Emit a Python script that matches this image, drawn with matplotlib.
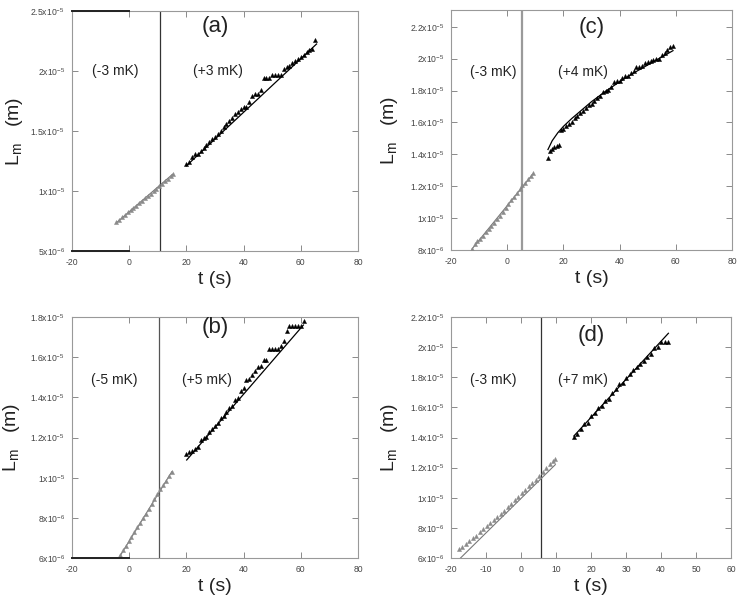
import matplotlib
matplotlib.use("Agg")
import matplotlib.pyplot as plt

plt.rcParams['font.family'] = ['Liberation Sans', 'DejaVu Sans']
plt.rcParams['mathtext.fontset'] = 'custom'
plt.rcParams['mathtext.rm'] = 'Liberation Sans'
plt.rcParams['mathtext.it'] = 'Liberation Sans:italic'

# ---------------- data (lengths in units of 1e-6 m) ----------------
# panel (a)
a_t_left = [-4.5, -3.5, -2.5, -1.5, -0.5, 0.5, 1.5, 2.5, 3.5, 4.5, 5.5, 6.5, 7.5, 8.5,
            9.5, 10.5, 11.5, 12.5, 13.5, 14.5, 15.2]
a_y_left = [7.40, 7.62, 7.80, 8.02, 8.22, 8.42, 8.60, 8.78, 8.98, 9.20, 9.40, 9.58, 9.78,
            9.98, 10.20, 10.40, 10.62, 10.82, 11.02, 11.25, 11.45]
a_t_right = [20, 21, 22, 23, 24, 25, 26, 27, 28, 29, 30, 31, 32, 33, 34, 35, 36, 37, 38,
             39, 40, 41, 42, 43, 44, 45, 46, 47, 48, 49, 50, 51, 52, 53, 54, 55, 56, 57,
             58, 59, 60, 61, 62, 63, 64, 65]
a_y_right = [12.25, 12.40, 12.85, 13.05, 13.05, 13.30, 13.60, 13.80, 14.05, 14.35, 14.50,
             14.75, 15.00, 15.30, 15.55, 15.80, 16.10, 16.40, 16.55, 16.80, 17.00, 17.00,
             17.45, 17.90, 18.05, 18.10, 18.40, 19.40, 19.40, 19.40, 19.70, 19.70, 19.70,
             19.70, 20.20, 20.35, 20.40, 20.70, 20.80, 21.00, 21.20, 21.35, 21.55, 21.75,
             21.85, 22.55]
a_fit_left_t = [-4.5, 15.2]
a_fit_left_y = [7.35, 11.40]
a_fit_right_t = [20, 65.5]
a_fit_right_y = [12.10, 22.25]
a_vline = 10.6

# panel (b)
b_t_left = [-3.2, -2.2, -1.2, -0.2, 0.8, 1.8, 2.8, 3.8, 4.8, 5.8, 6.8, 7.8, 8.8, 9.8,
            10.8, 11.8, 12.8, 13.8, 14.9]
b_y_left = [6.15, 6.40, 6.60, 6.85, 7.05, 7.30, 7.55, 7.75, 8.00, 8.20, 8.45, 8.70, 8.95,
            9.20, 9.45, 9.65, 9.85, 10.10, 10.30]
b_t_right = [20, 21, 22, 23, 24, 25, 26, 27, 28, 29, 30, 31, 32, 33, 34, 35, 36, 37, 38,
             39, 40, 41, 42, 43, 44, 45, 46, 47, 48, 49, 50, 51, 52, 53, 54, 55, 56, 57,
             58, 59, 60, 61]
b_y_right = [11.20, 11.30, 11.35, 11.45, 11.55, 11.90, 12.00, 12.05, 12.25, 12.40, 12.55,
             12.70, 12.95, 13.05, 13.25, 13.45, 13.55, 13.85, 13.95, 14.30, 14.45, 14.85,
             14.90, 15.10, 15.30, 15.50, 15.55, 15.85, 15.85, 16.40, 16.40, 16.40, 16.40,
             16.55, 16.80, 17.30, 17.55, 17.55, 17.55, 17.55, 17.55, 17.80]
b_fit_left_t = [-3.2, 14.9]
b_fit_left_y = [6.10, 10.30]
b_fit_right_t = [20.1, 60.9]
b_fit_right_y = [10.88, 17.60]
b_vline = 10.4

# panel (c)
c_t_left = [-12.6, -11.6, -10.6, -9.6, -8.6, -7.6, -6.6, -5.6, -4.6, -3.6, -2.6, -1.6,
            -0.6, 0.4, 1.4, 2.4, 3.4, 4.4, 5.4, 6.4, 7.4, 8.4, 9.3]
c_y_left = [8.05, 8.35, 8.55, 8.70, 8.90, 9.10, 9.30, 9.50, 9.72, 9.95, 10.15, 10.40,
            10.65, 10.90, 11.12, 11.35, 11.60, 11.82, 12.05, 12.20, 12.45, 12.65, 12.85]
c_t_right = [14.4, 15.2, 16.0, 16.8, 17.6, 18.4, 19, 20, 21, 22, 23, 24, 25, 26, 27, 28,
             29, 30, 31, 32, 33, 34, 35, 36, 37, 38, 39, 40, 41, 42, 43, 44, 45, 46, 47,
             48, 49, 50, 51, 52, 53, 54, 55, 56, 57, 58, 59]
c_y_right = [13.75, 14.20, 14.35, 14.45, 14.55, 14.60, 15.55, 15.60, 15.75, 15.90, 16.05,
             16.25, 16.40, 16.60, 16.70, 16.90, 17.10, 17.15, 17.35, 17.50, 17.65, 17.90,
             17.95, 18.05, 18.20, 18.55, 18.60, 18.60, 18.80, 18.90, 18.90, 19.10, 19.20,
             19.45, 19.50, 19.55, 19.75, 19.80, 19.85, 19.90, 20.00, 20.00, 20.20, 20.35,
             20.55, 20.75, 20.80]
c_fit_left_t = [-12.6, 9.3]
c_fit_left_y = [8.05, 12.80]
c_fit_right_t = [14.5, 16, 18, 20, 23, 26, 30, 35, 40, 45, 50, 55, 59]
c_fit_right_y = [14.30, 14.85, 15.35, 15.75, 16.25, 16.70, 17.30, 17.95, 18.55, 19.10,
                 19.60, 20.10, 20.50]
c_vline = 5.2

# panel (d)
d_t_left = [-17.8, -16.8, -15.8, -14.8, -13.8, -12.8, -11.8, -10.8, -9.8, -8.8, -7.8,
            -6.8, -5.8, -4.8, -3.8, -2.8, -1.8, -0.8, 0.2, 1.2, 2.2, 3.2, 4.2, 5.2, 6.2,
            7.2, 8.2, 9.2, 9.7]
d_y_left = [6.60, 6.75, 6.95, 7.15, 7.30, 7.45, 7.70, 7.90, 8.12, 8.33, 8.55, 8.75, 8.95,
            9.15, 9.40, 9.60, 9.85, 10.05, 10.30, 10.50, 10.75, 11.00, 11.20, 11.45, 11.70,
            11.95, 12.25, 12.45, 12.55]
d_t_right = [15.1, 16, 17, 18, 19, 20, 21, 22, 23, 24, 25, 26, 27, 28, 29, 30, 31, 32, 33,
             34, 35, 36, 37, 38, 39, 40, 41, 42]
d_y_right = [14.05, 14.25, 14.55, 14.90, 14.95, 15.45, 15.60, 15.95, 16.10, 16.40, 16.55,
             16.95, 17.25, 17.55, 17.65, 17.95, 18.20, 18.45, 18.65, 18.90, 19.05, 19.35,
             19.55, 19.95, 20.00, 20.35, 20.35, 20.35]
d_fit_left_t = [-17.5, 9.8]
d_fit_left_y = [5.95, 12.20]
d_fit_right_t = [15.1, 42.1]
d_fit_right_y = [14.10, 20.92]
d_vline = 5.7

# axis ticks and labels
x_ticks_abc = [-20, 0, 20, 40, 60, 80]
x_ticks_d = [-20, -10, 0, 10, 20, 30, 40, 50, 60]
a_yticks = [5e-6, 1e-5, 1.5e-5, 2e-5, 2.5e-5]
a_ylabels = ['5x10$^{-6}$', '1x10$^{-5}$', '1.5x10$^{-5}$', '2x10$^{-5}$', '2.5x10$^{-5}$']
b_yticks = [6e-6, 8e-6, 1e-5, 1.2e-5, 1.4e-5, 1.6e-5, 1.8e-5]
b_ylabels = ['6x10$^{-6}$', '8x10$^{-6}$', '1x10$^{-5}$', '1.2x10$^{-5}$', '1.4x10$^{-5}$',
             '1.6x10$^{-5}$', '1.8x10$^{-5}$']
c_yticks = [8e-6, 1e-5, 1.2e-5, 1.4e-5, 1.6e-5, 1.8e-5, 2e-5, 2.2e-5]
c_ylabels = ['8x10$^{-6}$', '1x10$^{-5}$', '1.2x10$^{-5}$', '1.4x10$^{-5}$', '1.6x10$^{-5}$',
             '1.8x10$^{-5}$', '2x10$^{-5}$', '2.2x10$^{-5}$']
d_yticks = [6e-6, 8e-6, 1e-5, 1.2e-5, 1.4e-5, 1.6e-5, 1.8e-5, 2e-5, 2.2e-5]
d_ylabels = ['6x10$^{-6}$', '8x10$^{-6}$', '1x10$^{-5}$', '1.2x10$^{-5}$', '1.4x10$^{-5}$',
             '1.6x10$^{-5}$', '1.8x10$^{-5}$', '2x10$^{-5}$', '2.2x10$^{-5}$']

SCALE = 1e-6
GRAY = '#8a8a8a'

fig = plt.figure(figsize=(7.4, 6.05), dpi=100)

panels = [
    dict(rect=[0.0973, 0.5851, 0.3865, 0.3967], name='(a)', lbl=('(-3 mK)', '(+3 mK)'),
         npos=0.934, lpos=(0.15, 0.75), rpos=(0.51, 0.75),
         tl=a_t_left, yl=a_y_left, tr=a_t_right, yr=a_y_right,
         fl=(a_fit_left_t, a_fit_left_y), fr=(a_fit_right_t, a_fit_right_y),
         vline=a_vline, vcol='#333333', vlw=0.9,
         xlim=(-20, 80), xt=x_ticks_abc, ylim=(5e-6, 2.5e-5), yt=a_yticks, ytl=a_ylabels,
         ylx=-0.165, dark=[('top', 0.2), ('bottom', 0.2)]),
    dict(rect=[0.6095, 0.5868, 0.3797, 0.3967], name='(c)', lbl=('(-3 mK)', '(+4 mK)'),
         npos=0.928, lpos=(0.15, 0.742), rpos=(0.47, 0.742),
         tl=c_t_left, yl=c_y_left, tr=c_t_right, yr=c_y_right,
         fl=(c_fit_left_t, c_fit_left_y), fr=(c_fit_right_t, c_fit_right_y),
         vline=c_vline, vcol='#9a9a9a', vlw=1.6,
         xlim=(-20, 80), xt=x_ticks_abc, ylim=(8e-6, 2.305e-5), yt=c_yticks, ytl=c_ylabels,
         ylx=-0.18, dark=[]),
    dict(rect=[0.0973, 0.0777, 0.3865, 0.3983], name='(b)', lbl=('(-5 mK)', '(+5 mK)'),
         npos=0.955, lpos=(0.147, 0.739), rpos=(0.472, 0.739),
         tl=b_t_left, yl=b_y_left, tr=b_t_right, yr=b_y_right,
         fl=(b_fit_left_t, b_fit_left_y), fr=(b_fit_right_t, b_fit_right_y),
         vline=b_vline, vcol='#555555', vlw=0.9,
         xlim=(-20, 80), xt=x_ticks_abc, ylim=(6e-6, 1.8e-5), yt=b_yticks, ytl=b_ylabels,
         ylx=-0.175, dark=[('bottom', 0.2)]),
    dict(rect=[0.6095, 0.0777, 0.3784, 0.3983], name='(d)', lbl=('(-3 mK)', '(+7 mK)'),
         npos=0.925, lpos=(0.15, 0.739), rpos=(0.471, 0.739),
         tl=d_t_left, yl=d_y_left, tr=d_t_right, yr=d_y_right,
         fl=(d_fit_left_t, d_fit_left_y), fr=(d_fit_right_t, d_fit_right_y),
         vline=d_vline, vcol='#333333', vlw=0.9,
         xlim=(-20, 60), xt=x_ticks_d, ylim=(6e-6, 2.2e-5), yt=d_yticks, ytl=d_ylabels,
         ylx=-0.182, dark=[]),
]

for p in panels:
    ax = fig.add_axes(p['rect'])
    ax.set_xlim(*p['xlim'])
    ax.set_ylim(*p['ylim'])
    # fit lines
    ax.plot(p['fl'][0], [v * SCALE for v in p['fl'][1]], color='#777777', lw=0.8, zorder=2)
    ax.plot(p['fr'][0], [v * SCALE for v in p['fr'][1]], color='black', lw=0.9, zorder=2)
    # data
    ax.plot(p['tl'], [v * SCALE for v in p['yl']], linestyle='none', marker='^',
            markersize=3.0, color=GRAY, markeredgewidth=0.3, zorder=3)
    ax.plot(p['tr'], [v * SCALE for v in p['yr']], linestyle='none', marker='^',
            markersize=3.0, color='black', markeredgewidth=0.3, zorder=3)
    ax.axvline(p['vline'], color=p['vcol'], lw=p['vlw'], zorder=1)

    ax.set_xticks(p['xt'])
    ax.set_xticklabels([str(v) for v in p['xt']])
    ax.set_yticks(p['yt'])
    ax.set_yticklabels(p['ytl'])
    ax.tick_params(direction='in', length=4, width=0.6, color='#777777', labelsize=6.2,
                   labelcolor='#444444', top=True, right=True, pad=5)
    for s in ax.spines.values():
        s.set_color('#999999')
        s.set_linewidth(0.8)
    for side, frac in p['dark']:
        yv = p['ylim'][1] if side == 'top' else p['ylim'][0]
        ax.axhline(yv, xmin=0, xmax=frac, color='#222222', lw=1.4, clip_on=False, zorder=5)

    ax.set_xlabel('t (s)', fontsize=14, labelpad=3, color='#222222')
    ax.set_ylabel(r'L$_{\mathregular{m}}$   (m)', fontsize=14, color='#222222')
    ax.yaxis.set_label_coords(p['ylx'], 0.5)

    ax.text(0.5, p['npos'], p['name'], transform=ax.transAxes, ha='center', va='center',
            fontsize=16, color='#222222')
    ax.text(p['lpos'][0], p['lpos'][1], p['lbl'][0], transform=ax.transAxes, ha='center',
            va='center', fontsize=10, color='#222222')
    ax.text(p['rpos'][0], p['rpos'][1], p['lbl'][1], transform=ax.transAxes, ha='center',
            va='center', fontsize=10, color='#222222')

fig.savefig('out.png', dpi=100)
